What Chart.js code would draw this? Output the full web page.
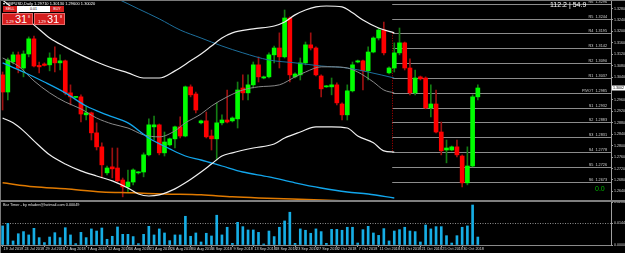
<!DOCTYPE html>
<html><head><meta charset="utf-8">
<script src="https://cdn.jsdelivr.net/npm/chart.js@4.4.1/dist/chart.umd.min.js"></script>
<style>
html,body{margin:0;padding:0;background:#000;width:625px;height:253px;overflow:hidden;}
#wrap{position:relative;width:625px;height:253px;background:#000;font-family:"Liberation Sans",Arial,sans-serif;}
canvas{position:absolute;left:0;}
#main{top:0;}
#vol{top:196px;}
.ov{position:absolute;white-space:nowrap;color:#fff;}
.btn{position:absolute;background:#d51d1d;color:#fff;text-align:center;}
</style></head><body>
<div id="wrap">
<canvas id="main" width="625" height="200"></canvas>
<canvas id="vol" width="625" height="57"></canvas>
<div style="position:absolute;left:0;top:0;width:625px;height:1px;background:#7a7a7a"></div>
<div style="position:absolute;left:0;top:0;width:1px;height:253px;background:#7a7a7a"></div>
<div style="position:absolute;left:0;top:200px;width:625px;height:2px;background:#7f7f7f"></div>
<div class="ov" id="title" style="left:3px;top:1px;font-size:4px;line-height:5px;"></div>
<div class="btn" style="left:3px;top:6px;width:14px;height:6px;font-size:3.6px;line-height:6px;">SELL</div>
<div style="position:absolute;left:17px;top:6px;width:33px;height:6px;background:#fff;color:#000;font-size:3.6px;line-height:6px;text-align:center;">0.01</div>
<div class="btn" style="left:50px;top:6px;width:14px;height:6px;font-size:3.6px;line-height:6px;">BUY</div>
<div class="btn" style="left:2px;top:13px;width:31px;height:12px;border:1px solid #e86a6a;box-sizing:border-box;">
  <span style="position:absolute;left:3px;top:5px;font-size:4px;">1.29</span>
  <span style="position:absolute;left:12px;top:-1px;font-size:11px;line-height:12px;">31</span>
  <span style="position:absolute;left:25px;top:1px;font-size:3.6px;">8</span>
</div>
<div class="btn" style="left:34px;top:13px;width:31px;height:12px;border:1px solid #e86a6a;box-sizing:border-box;">
  <span style="position:absolute;left:3px;top:5px;font-size:4px;">1.29</span>
  <span style="position:absolute;left:12px;top:-1px;font-size:11px;line-height:12px;">31</span>
  <span style="position:absolute;left:25px;top:1px;font-size:3.6px;">8</span>
</div>
<div class="ov" style="left:550px;top:1px;font-size:7px;line-height:8px;">112.2 | 54.9</div>
<div class="ov" style="left:595px;top:185px;font-size:7px;line-height:8px;color:#00b400;">0.0</div>
<div class="ov" style="left:3px;top:203px;font-size:3.8px;line-height:5px;color:#e0e0e0;">Bar Timer - by mladen@hotmail.com 0.00049</div>
</div>
<script>
// ---- data ----
const barDates = ['19 Jul 2018','20 Jul 2018','22 Jul 2018','23 Jul 2018','24 Jul 2018','25 Jul 2018','26 Jul 2018','27 Jul 2018','29 Jul 2018','30 Jul 2018','31 Jul 2018',
'1 Aug 2018','2 Aug 2018','3 Aug 2018','5 Aug 2018','6 Aug 2018','7 Aug 2018','8 Aug 2018','9 Aug 2018','10 Aug 2018','12 Aug 2018','13 Aug 2018','14 Aug 2018','15 Aug 2018','16 Aug 2018','17 Aug 2018','19 Aug 2018','20 Aug 2018','21 Aug 2018','22 Aug 2018','23 Aug 2018','24 Aug 2018','26 Aug 2018','27 Aug 2018','28 Aug 2018','29 Aug 2018','30 Aug 2018','31 Aug 2018',
'2 Sep 2018','3 Sep 2018','4 Sep 2018','5 Sep 2018','6 Sep 2018','7 Sep 2018','9 Sep 2018','10 Sep 2018','11 Sep 2018','12 Sep 2018','13 Sep 2018','14 Sep 2018','16 Sep 2018','17 Sep 2018','18 Sep 2018','19 Sep 2018','20 Sep 2018','21 Sep 2018','23 Sep 2018','24 Sep 2018','25 Sep 2018','26 Sep 2018','27 Sep 2018','28 Sep 2018','30 Sep 2018',
'1 Oct 2018','2 Oct 2018','3 Oct 2018','4 Oct 2018','5 Oct 2018','7 Oct 2018','8 Oct 2018','9 Oct 2018','10 Oct 2018','11 Oct 2018','12 Oct 2018','14 Oct 2018','15 Oct 2018','16 Oct 2018','17 Oct 2018','18 Oct 2018','19 Oct 2018','21 Oct 2018','22 Oct 2018','23 Oct 2018','24 Oct 2018','25 Oct 2018','26 Oct 2018','28 Oct 2018','29 Oct 2018','30 Oct 2018','31 Oct 2018',
'1 Nov 2018','2 Nov 2018'];

const open = [1.3048,1.2988,1.3093,1.3118,1.3072,1.3121,1.3174,1.3081,1.3086,1.3083,
1.3107,1.3090,1.3097,1.2985,1.2969,1.2971,1.2908,1.2915,1.2845,1.2796,
1.2705,1.2726,1.2722,1.2680,1.2656,1.2673,1.2705,1.2708,1.2768,1.2866,
1.2873,1.2775,1.2803,1.2824,1.2866,1.2834,1.3006,1.2981,1.2880,1.2887,
1.2834,1.2824,1.2880,1.2890,1.2887,1.2894,1.3002,1.2985,1.3013,1.3083,
1.3037,1.3041,1.3118,1.3142,1.3111,1.3247,1.3041,1.3048,1.3090,1.3153,
1.3142,1.3044,1.3006,1.3006,1.3013,1.2946,1.2908,1.2992,1.3093,1.3097,
1.3062,1.3128,1.3177,1.3205,1.3055,1.3072,1.3125,1.3160,1.3072,1.2985,
1.3041,1.3037,1.2932,1.2946,1.2848,1.2785,1.2785,1.2796,1.2764,1.2670,
1.2729,1.2971];
const high = [1.3058,1.3107,1.3128,1.3128,1.3132,1.3181,1.3184,1.3093,1.3090,1.3125,
1.3146,1.3118,1.3100,1.3013,1.2972,1.2978,1.2939,1.2918,1.2880,1.2810,
1.2729,1.2792,1.2792,1.2687,1.2715,1.2719,1.2710,1.2775,1.2894,1.2904,
1.2876,1.2848,1.2827,1.2869,1.2901,1.3009,1.3013,1.2988,1.2890,1.2918,
1.2855,1.2950,1.2908,1.2995,1.2901,1.3023,1.3048,1.3048,1.3093,1.3111,
1.3044,1.3125,1.3149,1.3195,1.3275,1.3251,1.3055,1.3107,1.3163,1.3195,
1.3146,1.3048,1.3011,1.3037,1.3020,1.2950,1.3013,1.3093,1.3100,1.3100,
1.3146,1.3181,1.3212,1.3233,1.3076,1.3160,1.3212,1.3163,1.3104,1.3065,
1.3044,1.3041,1.3013,1.2995,1.2883,1.2820,1.2799,1.2820,1.2768,1.2796,
1.2978,1.3013];
const low = [1.2925,1.2960,1.3086,1.3055,1.3041,1.3111,1.3076,1.3055,1.3079,1.3062,
1.3058,1.3065,1.2978,1.2943,1.2967,1.2883,1.2890,1.2820,1.2785,1.2687,
1.2698,1.2687,1.2673,1.2621,1.2638,1.2663,1.2701,1.2691,1.2764,1.2820,
1.2768,1.2764,1.2799,1.2792,1.2827,1.2831,1.2971,1.2915,1.2876,1.2827,
1.2785,1.2750,1.2873,1.2880,1.2883,1.2862,1.2960,1.2960,1.3002,1.3023,
1.3034,1.3037,1.3090,1.3072,1.3107,1.3023,1.3037,1.3030,1.3083,1.3135,
1.3044,1.2971,1.3004,1.2978,1.2943,1.2890,1.2890,1.2988,1.3090,1.2995,
1.3030,1.3125,1.3170,1.3118,1.3051,1.3058,1.3118,1.3065,1.2978,1.2978,
1.3030,1.2929,1.2901,1.2845,1.2768,1.2740,1.2782,1.2761,1.2656,1.2663,
1.2726,1.2960];
const close = [1.2988,1.3100,1.3118,1.3072,1.3121,1.3174,1.3079,1.3076,1.3081,1.3107,
1.3090,1.3097,1.2985,1.2971,1.2971,1.2911,1.2915,1.2845,1.2796,1.2733,
1.2722,1.2719,1.2677,1.2656,1.2673,1.2715,1.2708,1.2768,1.2873,1.2873,
1.2775,1.2813,1.2824,1.2866,1.2834,1.3006,1.2978,1.2925,1.2887,1.2831,
1.2824,1.2880,1.2890,1.2883,1.2897,1.2995,1.2985,1.3013,1.3083,1.3041,
1.3041,1.3118,1.3142,1.3111,1.3247,1.3048,1.3051,1.3090,1.3153,1.3142,
1.3048,1.2999,1.3009,1.3013,1.2950,1.2908,1.2992,1.3083,1.3097,1.3062,
1.3128,1.3177,1.3205,1.3125,1.3072,1.3125,1.3160,1.3072,1.2985,1.3037,
1.3034,1.2932,1.2946,1.2848,1.2782,1.2792,1.2796,1.2768,1.2670,1.2729,
1.2971,1.3002];

// bar-range histogram (lower panel)
const barRange = [0.0127,0.0144,0.0027,0.0075,0.0089,0.0067,0.0111,0.0049,0.0016,0.0053,
0.0082,0.0049,0.0115,0.0067,0.0009,0.0084,0.0049,0.0107,0.0093,0.0113,
0.0038,0.0058,0.0120,0.0071,0.0071,0.0056,0.0009,0.0071,0.0124,0.0067,
0.0107,0.0080,0.0029,0.0067,0.0067,0.0191,0.0058,0.0080,0.0020,0.0078,
0.0060,0.0198,0.0067,0.0118,0.0011,0.0151,0.0122,0.0100,0.0100,0.0084,
0.0007,0.0093,0.0056,0.0118,0.0160,0.0218,0.0011,0.0107,0.0098,0.0078,
0.0107,0.0089,0.0011,0.0104,0.0104,0.0098,0.0118,0.0118,0.0013,0.0102,
0.0124,0.0080,0.0064,0.0109,0.0027,0.0093,0.0102,0.0118,0.0093,0.0089,
0.0020,0.0133,0.0107,0.0122,0.0122,0.0062,0.0013,0.0062,0.0118,0.0127,
0.0266,0.0053];

// indicator lines: [bar index, price]
const bbUpper = [[0,1.3310],[3,1.3265],[6,1.3223],[9,1.3177],[12,1.3146],[15,1.3118],[18,1.3093],[21,1.3072],[24,1.3055],[27,1.3037],[30,1.3037],[33,1.3062],[36,1.3097],[38,1.3121],[40,1.3149],[42,1.3177],[44,1.3195],[48,1.3209],[52,1.3219],[54,1.3233],[56,1.3258],[58,1.3275],[60,1.3286],[62,1.3289],[65,1.3286],[67,1.3265],[69,1.3240],[72,1.3212],[75,1.3195]];
const bbMiddle = [[0,1.3107],[3,1.3079],[6,1.3027],[9,1.2985],[12,1.2953],[15,1.2929],[18,1.2897],[21,1.2876],[24,1.2862],[27,1.2838],[30,1.2831],[33,1.2852],[35,1.2880],[38,1.2911],[40,1.2939],[43,1.2971],[46,1.2995],[49,1.3006],[53,1.3013],[56,1.3041],[58,1.3058],[61,1.3076],[63,1.3076],[66,1.3072],[68,1.3058],[71,1.3023],[73,1.2995],[75,1.2985]];
const bbLower = [[0,1.2897],[2,1.2880],[4,1.2852],[6,1.2817],[9,1.2768],[12,1.2736],[15,1.2712],[18,1.2694],[21,1.2677],[24,1.2652],[26,1.2631],[28,1.2624],[30,1.2628],[33,1.2649],[35,1.2670],[38,1.2708],[40,1.2736],[42,1.2764],[44,1.2775],[48,1.2792],[52,1.2806],[54,1.2827],[57,1.2848],[60,1.2866],[63,1.2866],[66,1.2862],[68,1.2834],[71,1.2810],[73,1.2782],[75,1.2778]];
const maBlue = [[0,1.3090],[4,1.3058],[8,1.3023],[12,1.2985],[16,1.2939],[20,1.2908],[24,1.2880],[28,1.2827],[32,1.2789],[35,1.2764],[38,1.2750],[42,1.2729],[46,1.2708],[51,1.2691],[56,1.2670],[61,1.2652],[66,1.2638],[70,1.2631],[75,1.2617]];
const maTeal = [[18,1.3345],[22,1.3314],[26,1.3279],[30,1.3244],[34,1.3205],[38,1.3177],[42,1.3149],[46,1.3125],[51,1.3100],[56,1.3090],[61,1.3079],[66,1.3072],[70,1.3058],[75,1.3037]];
const maOrange = [[0,1.2670],[6,1.2656],[12,1.2649],[19,1.2638],[25,1.2635],[31,1.2631],[38,1.2628],[44,1.2621],[49,1.2617],[61,1.2610],[75,1.2600]];

const pivotNames = ['R6','R5','R4','R3','R2','R1','PIVOT','S1','S2','S3','S4','S5','S6'];
const pivotLevels = [1.3296,1.3244,1.3195,1.3142,1.3090,1.3037,1.2985,1.2932,1.2883,1.2831,1.2778,1.2726,1.2673];

const priceTicks = [1.3280,1.3240,1.3200,1.3160,1.3120,1.3080,1.3040,1.3000,1.2960,1.2920,1.2880,1.2840,1.2800,1.2760,1.2720,1.2680,1.2640];
const rangeTicks = [0,0.0144,0.0286];
const xTickIdx = [0,4,8,12,16,20,24,28,32,36,40,44,48,52,56,60,64,68,72,76,80,84,88];
const xTickLabels = xTickIdx.map(i => barDates[i]);

// ---- drawing ----
const SLOTS = 117;
const X_MIN = -0.5, X_MAX = SLOTS - 0.5;
const PRICE_MIN = 1.2610, PRICE_MAX = 1.3310;
const LEVEL_START = 74.6;
const last = close.length - 1;
const FONT = '"Liberation Sans", Arial, sans-serif';

document.getElementById('title').textContent = '\u25BE GBPUSD,Daily  ' +
  open[last].toFixed(5) + ' ' + high[last].toFixed(5) + ' ' + low[last].toFixed(5) + ' ' + close[last].toFixed(5);

const up = i => close[i] >= open[i];
const wickData = open.map((o, i) => ({x: i, y: [low[i], high[i]]}));
const bodyData = open.map((o, i) => ({x: i, y: [o, close[i]]}));

function lineDS(pts, color, width, order) {
  return {type: 'line', data: pts.map(p => ({x: p[0], y: p[1]})), borderColor: color, borderWidth: width,
    pointRadius: 0, fill: false, cubicInterpolationMode: 'monotone', order: order};
}

const levelsPlugin = {
  id: 'levels',
  beforeDatasetsDraw(chart) {
    const {ctx, chartArea, scales} = chart;
    const x0 = scales.x.getPixelForValue(LEVEL_START);
    ctx.save();
    ctx.strokeStyle = '#8c8c8c'; ctx.lineWidth = 1;
    ctx.font = '3.8px ' + FONT; ctx.fillStyle = '#d0d0d0';
    ctx.textAlign = 'right'; ctx.textBaseline = 'bottom';
    pivotLevels.forEach((lv, k) => {
      const y = Math.round(scales.y.getPixelForValue(lv)) + 0.5;
      ctx.beginPath(); ctx.moveTo(x0, y); ctx.lineTo(chartArea.right, y); ctx.stroke();
      ctx.fillText(pivotNames[k] + '  ' + lv.toFixed(4), chartArea.right - 4, y - 0.5);
    });
    // dotted vertical line joining the band ends
    const yu = scales.y.getPixelForValue(bbUpper[bbUpper.length - 1][1]);
    const yl = scales.y.getPixelForValue(bbLower[bbLower.length - 1][1]);
    ctx.strokeStyle = '#b40000'; ctx.setLineDash([1, 1.5]);
    ctx.beginPath(); ctx.moveTo(Math.round(x0) + 0.5, yu); ctx.lineTo(Math.round(x0) + 0.5, yl); ctx.stroke();
    ctx.restore();
  },
  afterDraw(chart) {
    const {ctx, scales} = chart;
    const y = scales.y.getPixelForValue(close[last]);
    ctx.save();
    ctx.fillStyle = '#ffffff';
    ctx.fillRect(612, y - 2.5, 13, 5);
    ctx.fillStyle = '#000'; ctx.font = '3.6px ' + FONT; ctx.textBaseline = 'middle'; ctx.textAlign = 'left';
    ctx.fillText(close[last].toFixed(4), 613, y);
    ctx.restore();
  }
};

new Chart(document.getElementById('main'), {
  type: 'bar',
  data: {datasets: [
    lineDS(bbUpper, '#f0f0f0', 1.2, 1),
    lineDS(bbLower, '#f0f0f0', 1.2, 1),
    lineDS(bbMiddle, '#8a8a8a', 1, 2),
    lineDS(maBlue, '#12a6ec', 1.3, 1),
    lineDS(maTeal, '#1d6f9c', 1, 2),
    lineDS(maOrange, '#e07a00', 1.5, 1),
    {type: 'bar', data: wickData, barThickness: 1, grouped: false, order: 10,
      backgroundColor: c => up(c.dataIndex) ? '#137d13' : '#9c1010'},
    {type: 'bar', data: bodyData, barThickness: 4, grouped: false, minBarLength: 1, order: 9,
      backgroundColor: c => up(c.dataIndex) ? '#00ff00' : '#ff0000'}
  ]},
  options: {
    responsive: false, animation: false, events: [],
    layout: {padding: 0},
    plugins: {legend: {display: false}, tooltip: {enabled: false}},
    scales: {
      x: {type: 'linear', min: X_MIN, max: X_MAX, offset: false, display: false, grid: {offset: false}},
      y: {type: 'linear', position: 'right', min: PRICE_MIN, max: PRICE_MAX,
        afterBuildTicks(s) { s.ticks = priceTicks.map(v => ({value: v})); },
        afterFit(s) { s.width = 14; s.paddingTop = 0; s.paddingBottom = 0; },
        border: {color: '#a0a0a0', width: 1},
        grid: {drawOnChartArea: false, tickLength: 2, color: '#a0a0a0'},
        ticks: {font: {size: 3.6, family: FONT}, color: '#d8d8d8', padding: 1, callback: v => v.toFixed(4)}}
    }
  },
  plugins: [levelsPlugin]
});

const rangePlugin = {
  id: 'rangeLevel',
  beforeDatasetsDraw(chart) {
    const {ctx, chartArea, scales} = chart;
    const y = Math.round(scales.y.getPixelForValue(rangeTicks[1])) + 0.5;
    ctx.save();
    ctx.strokeStyle = '#8c8c8c'; ctx.lineWidth = 1; ctx.setLineDash([1, 1.5]);
    ctx.beginPath(); ctx.moveTo(chartArea.left, y); ctx.lineTo(chartArea.right, y); ctx.stroke();
    ctx.restore();
  }
};

new Chart(document.getElementById('vol'), {
  type: 'bar',
  data: {datasets: [
    {data: barRange.map((v, i) => ({x: i, y: v})), barThickness: 2, grouped: false, backgroundColor: '#16ade4'}
  ]},
  options: {
    responsive: false, animation: false, events: [],
    layout: {padding: {top: 6, left: 0, right: 0, bottom: 0}},
    plugins: {legend: {display: false}, tooltip: {enabled: false}},
    scales: {
      x: {type: 'linear', min: X_MIN, max: X_MAX, offset: false,
        afterBuildTicks(s) { s.ticks = xTickIdx.map(v => ({value: v})); },
        afterFit(s) { s.height = 8; s.paddingLeft = 0; s.paddingRight = 0; },
        border: {color: '#8a8a8a', width: 1},
        grid: {drawOnChartArea: false, tickLength: 2, color: '#9a9a9a', offset: false},
        ticks: {autoSkip: false, maxRotation: 0, minRotation: 0, align: 'start', labelOffset: 1, padding: 0,
          font: {size: 3.8, family: FONT}, color: '#d8d8d8', callback: (v, i) => xTickLabels[i]}},
      y: {type: 'linear', position: 'right', min: 0, max: rangeTicks[2],
        afterBuildTicks(s) { s.ticks = rangeTicks.map(v => ({value: v})); },
        afterFit(s) { s.width = 14; s.paddingTop = 0; s.paddingBottom = 0; },
        border: {color: '#a0a0a0', width: 1},
        grid: {drawOnChartArea: false, tickLength: 2, color: '#a0a0a0'},
        ticks: {font: {size: 3.6, family: FONT}, color: '#d8d8d8', padding: 1, callback: v => v.toFixed(4)}}
    }
  },
  plugins: [rangePlugin]
});
</script>
</body></html>
